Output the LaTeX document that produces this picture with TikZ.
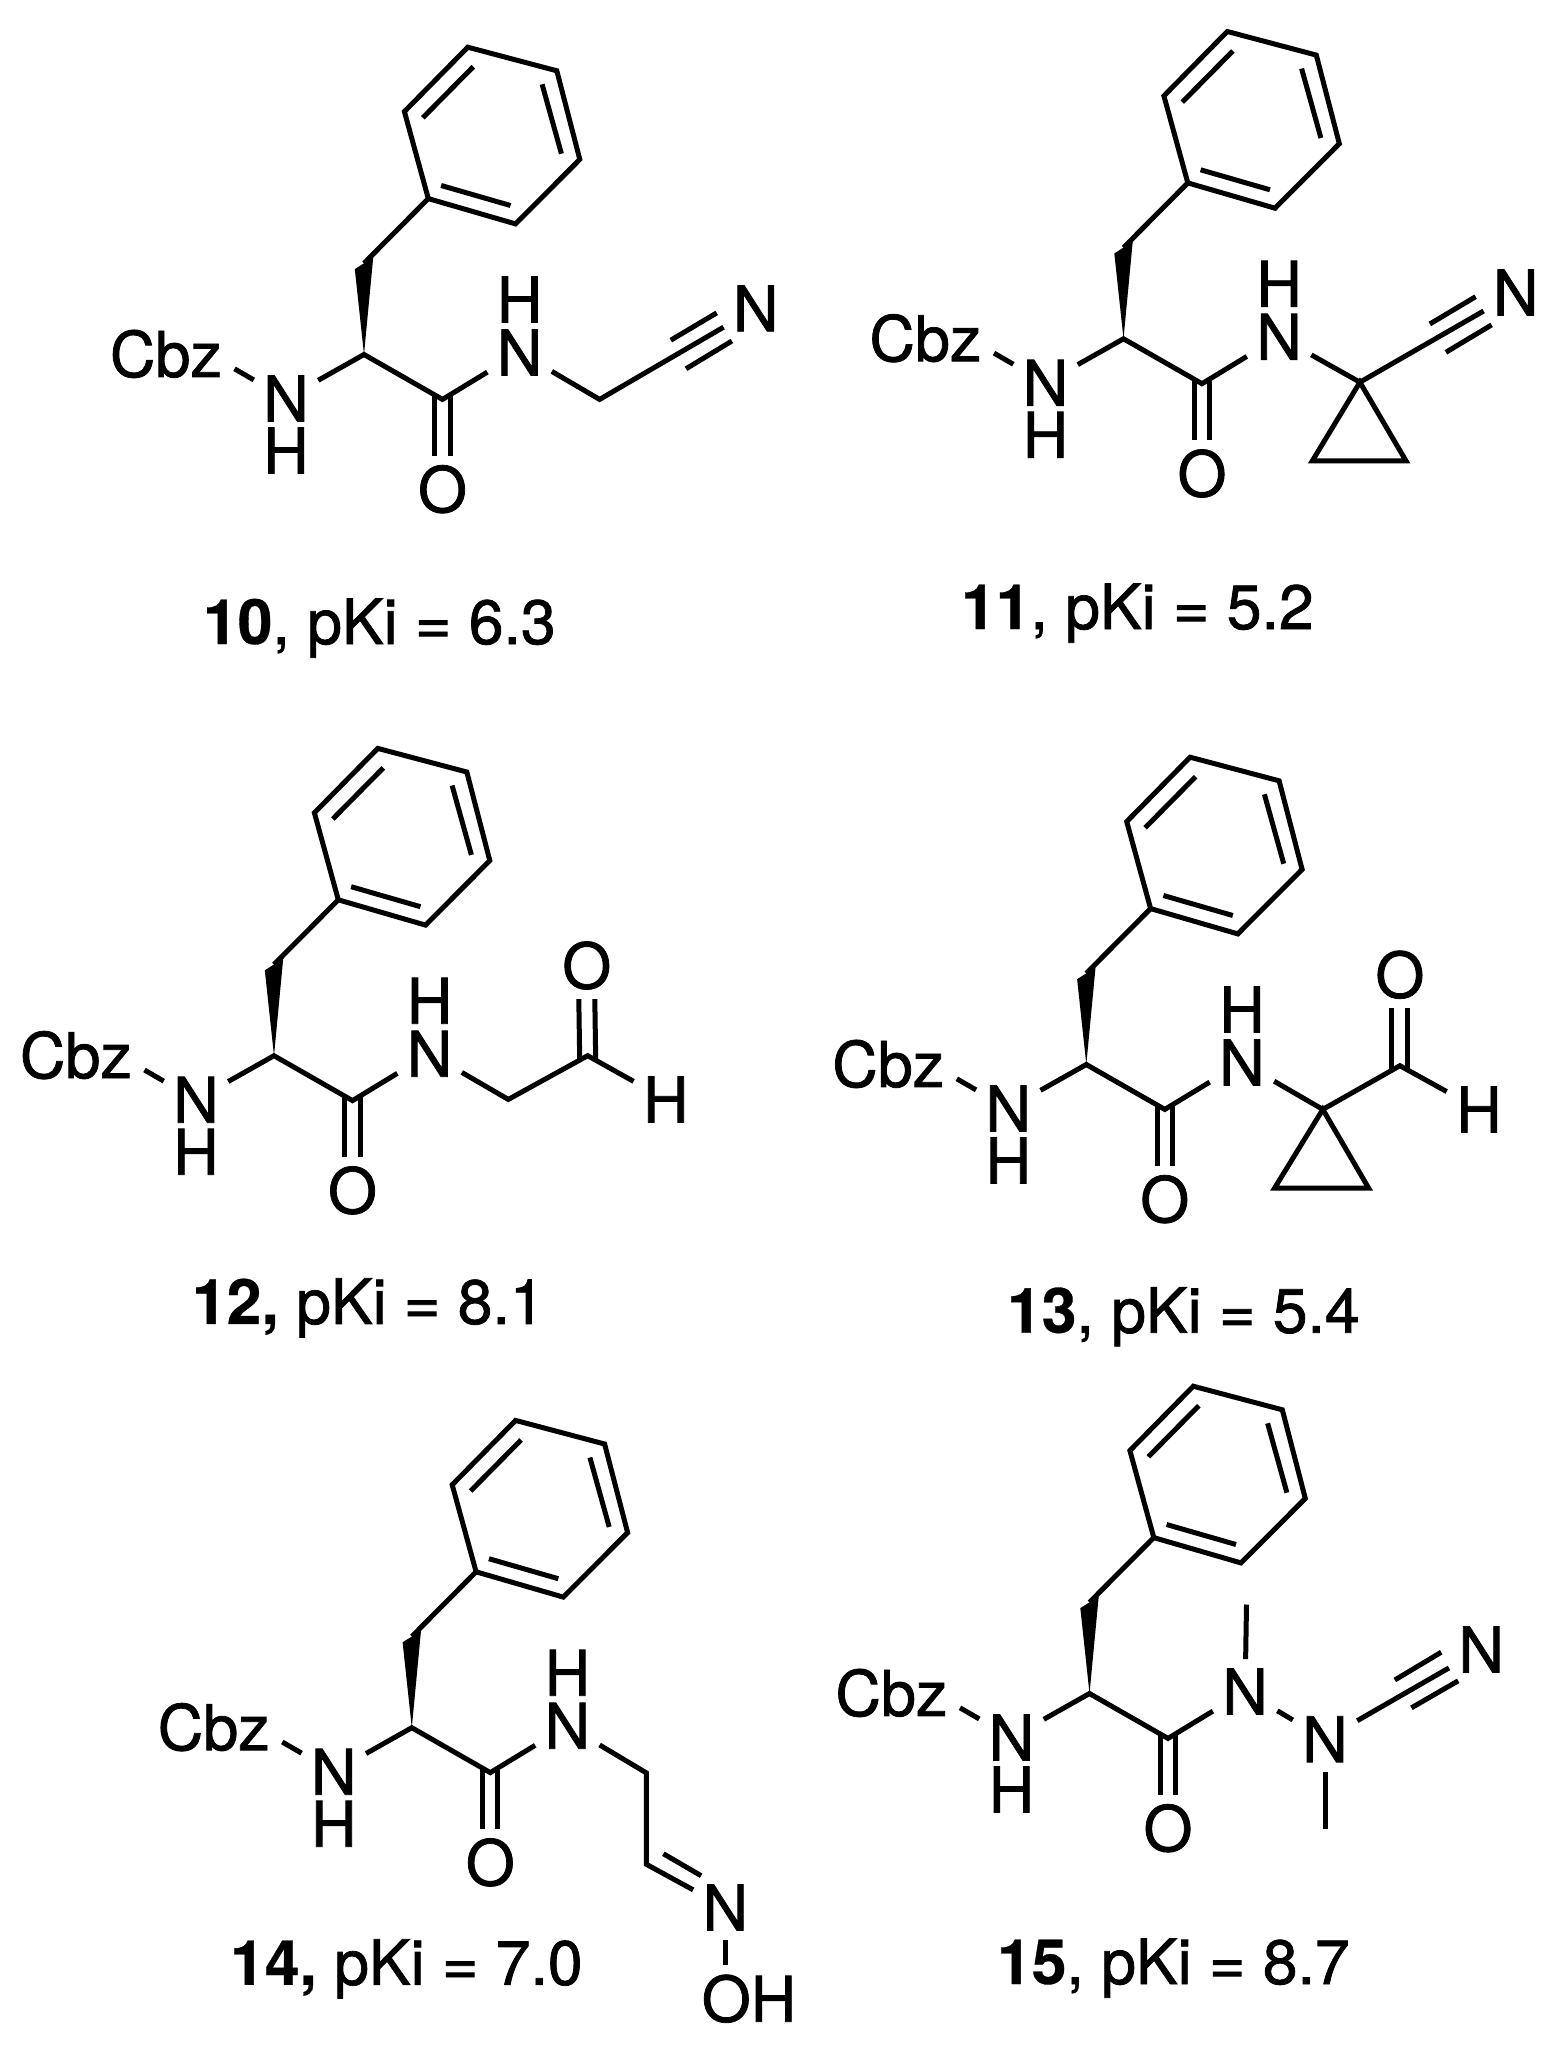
\documentclass[tikz,border=0pt]{standalone}
\usepackage{fontspec}
\setmainfont{TeX Gyre Heros}[UprightFeatures = {FakeBold = 1.2}, BoldFeatures = {FakeBold = 0.5}]
\begin{document}
\begin{tikzpicture}[
        x = 1pt, y = -1pt,
        atom/.style = {inner sep = 0pt, outer sep = 9.5pt, font = \fontsize{63}{70}\selectfont},
        pki/.style = {inner sep = 0pt, outer sep = 0pt, anchor = base west, font = \fontsize{62.5}{70}\selectfont},
        bond/.style = {draw, line width = 5pt},
        wedge/.style = {fill},
        phe/.pic = {
            \coordinate (-Ca) at (0, 0);
            \coordinate (-W1) at (-9.2, -85.4);
            \coordinate (-W2) at (9.2, -97);
            \coordinate (-Cb) at (0, -91.2);
            \coordinate (-R1) at (64.3, -155.9);
            \coordinate (-R2) at (151.5, -130.6);
            \coordinate (-R3) at (215.8, -195.1);
            \coordinate (-R4) at (192.8, -283.7);
            \coordinate (-R5) at (103.8, -307.3);
            \coordinate (-R6) at (40.4, -242.9);
            \coordinate (-D1) at (77.1, -169);
            \coordinate (-D2) at (146.5, -149);
            \coordinate (-D3) at (197.4, -200.8);
            \coordinate (-D4) at (178.1, -270.2);
            \coordinate (-D5) at (109.3, -287.8);
            \coordinate (-D6) at (58.8, -236.7);
            \coordinate (-Cz) at (-129.5, 14.3);
            \coordinate (-C) at (78.5, 44.9);
            \node (-Cbz) at (-142, 22.4) [atom, outer sep = 0pt, anchor = base east] {Cbz};
            \node (-N) at (-78, 44) [atom] {N};
            \node (-H) at (-78, 96) [atom] {H};
            \node (-O) at (78.5, 134.7) [atom] {O};
            \node (-Nam) at (155.6, -2) [atom] {N};
            \path[wedge] (-Ca) -- (-W1) -- (-W2) -- cycle;
            \path[bond] (-Cb) -- (-R1);
            \path[bond] (-R1) -- (-R2) -- (-R3) -- (-R4) -- (-R5) -- (-R6) -- cycle;
            \path[bond] (-D1) -- (-D2);
            \path[bond] (-D3) -- (-D4);
            \path[bond] (-D5) -- (-D6);
            \path[bond] (-Cz) -- (-N);
            \path[bond] (-N) -- (-Ca) -- (-C) -- (-Nam);
            \path[bond] ([xshift = -7.6pt, yshift = 4pt]-C) -- ([xshift = -7.6pt]-O.north);
            \path[bond] ([xshift = 7.6pt, yshift = 4pt]-C) -- ([xshift = 7.6pt]-O.north);
        },
    ]
    \useasboundingbox (0, 0) rectangle (1557, 2063);

    \pic (m10) at (364, 354.5) {phe};
    \node (H10) at (519.6, 299.5) [atom] {H};
    \coordinate (A10) at (599.6, 399.4);
    \coordinate (T1) at (670.8, 340.2);
    \coordinate (T2) at (716.7, 312.9);
    \coordinate (T3) at (686, 368.8);
    \coordinate (T4) at (731.9, 341);
    \node (N10) at (755.8, 308.4) [atom] {N};
    \path[bond] (m10-Nam) -- (A10) -- (N10);
    \path[bond] (T1) -- (T2);
    \path[bond] (T3) -- (T4);
    \node (L10) at (203, 644) [pki] {\textbf{10}, pKi = 6.3};

    \pic (m11) at (1123.5, 338.8) {phe};
    \node (H11) at (1279.1, 283.8) [atom] {H};
    \coordinate (Q11) at (1359.9, 382.2);
    \coordinate (P1) at (1312.3, 460.9);
    \coordinate (P2) at (1406, 460.9);
    \coordinate (T1) at (1429.8, 324);
    \coordinate (T2) at (1475.6, 296.7);
    \coordinate (T3) at (1445.9, 352.3);
    \coordinate (T4) at (1491.6, 324.9);
    \node (N11) at (1515.8, 292.5) [atom] {N};
    \path[bond] (m11-Nam) -- (Q11) -- (N11);
    \path[bond] (Q11) -- (P1) -- (P2) -- cycle;
    \path[bond] (T1) -- (T2);
    \path[bond] (T3) -- (T4);
    \node (L11) at (961, 629) [pki] {\textbf{11}, pKi = 5.2};

    \pic (m12) at (274, 1055.7) {phe};
    \node (H12) at (429.6, 1000.7) [atom] {H};
    \coordinate (A12) at (508.3, 1099.4);
    \coordinate (C12) at (587.7, 1055.7);
    \node (O12) at (586.8, 965.5) [atom] {O};
    \node (Hc12) at (665.8, 1099.4) [atom] {H};
    \path[bond] (m12-Nam) -- (A12) -- (C12) -- (Hc12);
    \path[bond] ([xshift = -8pt, yshift = -4pt]C12) -- ([xshift = -8pt]O12.south);
    \path[bond] ([xshift = 8pt, yshift = -4pt]C12) -- ([xshift = 8pt]O12.south);
    \node (L12) at (192, 1323.9) [pki] {\textbf{12,} pKi = 8.1};

    \pic (m13) at (1086.3, 1064.5) {phe};
    \node (H13) at (1241.9, 1009.5) [atom] {H};
    \coordinate (Q13) at (1322.8, 1109.4);
    \coordinate (P1) at (1274.5, 1188.2);
    \coordinate (P2) at (1368.7, 1188.2);
    \coordinate (C13) at (1399.9, 1065.7);
    \node (O13) at (1399.9, 974.7) [atom] {O};
    \node (Hc13) at (1478.9, 1109.4) [atom] {H};
    \path[bond] (m13-Nam) -- (Q13) -- (C13) -- (Hc13);
    \path[bond] (Q13) -- (P1) -- (P2) -- cycle;
    \path[bond] ([xshift = -8pt, yshift = -4pt]C13) -- ([xshift = -8pt]O13.south);
    \path[bond] ([xshift = 8pt, yshift = -4pt]C13) -- ([xshift = 8pt]O13.south);
    \node (L13) at (1007, 1332.7) [pki] {\textbf{13}, pKi = 5.4};

    \pic (m14) at (411.8, 1727.7) {phe};
    \node (H14) at (567.4, 1672.7) [atom] {H};
    \coordinate (A14) at (646.4, 1772.9);
    \coordinate (C14) at (646.4, 1864.3);
    \coordinate (T1) at (663.4, 1853.7);
    \coordinate (T2) at (701.1, 1875.7);
    \node (N14) at (725.4, 1907.4) [atom] {N};
    \node (OH14) at (749, 1998.7) [atom] {OH};
    \path[bond] (m14-Nam) -- (A14) -- (C14) -- (N14);
    \path[bond] (T1) -- (T2);
    \path[bond] (N14) -- (N14 |- OH14.north);
    \node (L14) at (230, 1984.8) [pki] {\textbf{14,} pKi = 7.0};

    \pic (m15) at (1089.5, 1693.5) {phe};
    \node (N15) at (1325, 1739.2) [atom] {N};
    \coordinate (Me1) at (1246.5, 1604.5);
    \coordinate (Me2) at (1325, 1829);
    \coordinate (T1) at (1394.8, 1680);
    \coordinate (T2) at (1441.2, 1652.2);
    \coordinate (T3) at (1411.4, 1707.8);
    \coordinate (T4) at (1458.2, 1680.8);
    \node (Nc15) at (1481.2, 1649.4) [atom] {N};
    \path[bond] (m15-Nam) -- (N15) -- (Nc15);
    \path[bond] (m15-Nam) -- (Me1);
    \path[bond] (N15) -- (Me2);
    \path[bond] (T1) -- (T2);
    \path[bond] (T3) -- (T4);
    \node (L15) at (997, 1984) [pki] {\textbf{15}, pKi = 8.7};
\end{tikzpicture}
\end{document}
